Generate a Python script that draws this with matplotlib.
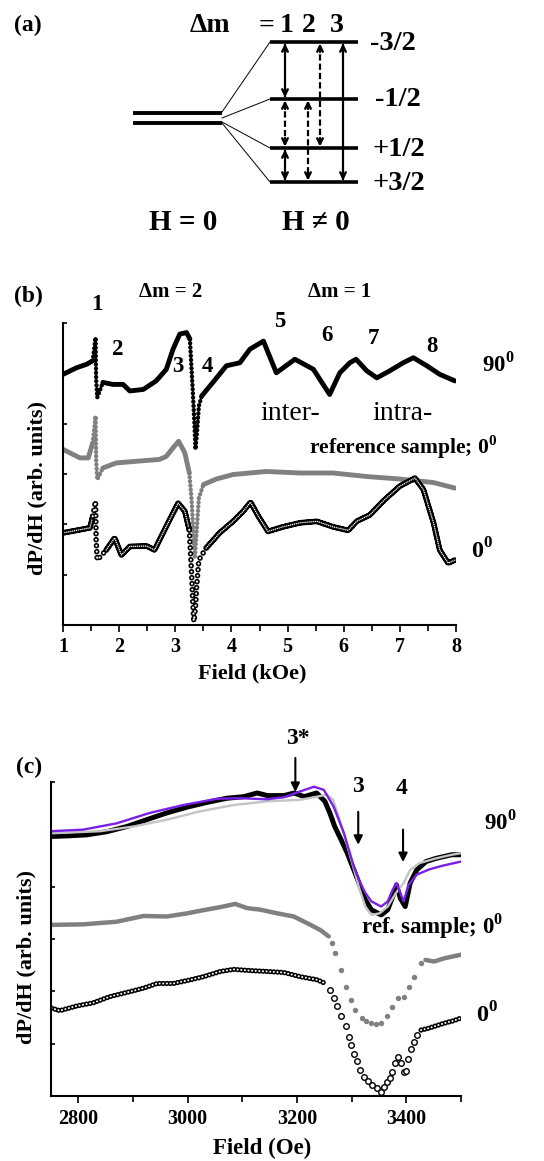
import numpy as np
import matplotlib
matplotlib.use('Agg')
import matplotlib.pyplot as plt

plt.rcParams['font.family'] = ['Liberation Serif', 'DejaVu Serif']
plt.rcParams['font.weight'] = 'bold'
plt.rcParams['axes.labelweight'] = 'bold'
plt.rcParams['mathtext.fontset'] = 'custom'
plt.rcParams['mathtext.rm'] = 'Liberation Serif:bold'
plt.rcParams['mathtext.bf'] = 'Liberation Serif:bold'
plt.rcParams['lines.scale_dashes'] = False

W, H = 544, 1161

# ---- panel (a): spin levels and transitions
levels = ['-3/2', '-1/2', '+1/2', '+3/2']
# (column, from level, to level, line style)
transitions = [(0, 0, 1, '-'), (0, 1, 2, '--'), (0, 2, 3, '-'),
               (1, 1, 3, '--'), (2, 0, 2, '--'), (3, 0, 3, '-')]

# ---- panel (b): field in kOe
h_90 = [1.00, 1.24, 1.42, 1.53, 1.58, 1.59, 1.61, 1.71, 1.89, 2.07, 2.19, 2.43,
        2.66, 2.84, 2.96, 3.08, 3.20, 3.26, 3.28, 3.31, 3.34, 3.36, 3.39, 3.42,
        3.47, 3.67, 3.91, 4.15, 4.33, 4.57, 4.80, 5.13, 5.46, 5.61, 5.75, 5.93,
        6.11, 6.22, 6.41, 6.59, 6.82, 7.06, 7.24, 7.48, 7.71, 7.98]
y_90 = [4.98, 5.11, 5.18, 5.25, 5.71, 4.88, 4.52, 4.82, 4.78, 4.78, 4.65, 4.68,
        4.85, 5.08, 5.48, 5.78, 5.81, 5.68, 5.28, 4.68, 4.02, 3.49, 3.88, 4.35,
        4.55, 4.82, 5.15, 5.21, 5.48, 5.64, 5.01, 5.28, 5.08, 4.82, 4.58, 5.01,
        5.21, 5.28, 5.05, 4.91, 5.05, 5.21, 5.31, 5.15, 4.98, 4.85]

h_ref = [1.00, 1.30, 1.45, 1.53, 1.58, 1.59, 1.61, 1.71, 1.95, 2.72, 2.84, 2.96,
         3.06, 3.17, 3.25, 3.29, 3.33, 3.35, 3.39, 3.42, 3.50, 3.73, 4.03, 4.62,
         5.22, 5.81, 6.41, 7.00, 7.60, 7.98]
y_ref = [3.49, 3.32, 3.32, 3.62, 4.15, 3.29, 2.89, 3.12, 3.22, 3.29, 3.35, 3.52,
         3.65, 3.42, 3.02, 2.49, 1.69, 1.36, 2.03, 2.52, 2.79, 2.90, 2.99, 3.05,
         3.02, 3.02, 2.95, 2.90, 2.83, 2.72]

h_0 = [1.00, 1.48, 1.53, 1.58, 1.59, 1.61, 1.77, 1.92, 2.04, 2.19, 2.49, 2.63,
       2.84, 3.05, 3.17, 3.25, 3.29, 3.31, 3.33, 3.36, 3.38, 3.42, 3.55, 3.79,
       4.03, 4.21, 4.34, 4.48, 4.65, 4.92, 5.22, 5.52, 5.81, 6.08, 6.23, 6.47,
       6.70, 7.00, 7.27, 7.42, 7.60, 7.71, 7.86, 7.98]
y_0 = [1.83, 1.93, 2.16, 2.46, 1.69, 1.29, 1.49, 1.73, 1.39, 1.56, 1.57, 1.49,
       1.96, 2.42, 2.26, 1.89, 1.03, 0.50, 0.07, 0.35, 0.76, 1.29, 1.53, 1.83,
       2.06, 2.26, 2.44, 2.16, 1.86, 1.95, 2.03, 2.06, 1.95, 1.88, 2.06, 2.19,
       2.46, 2.76, 2.92, 2.69, 2.03, 1.49, 1.23, 1.29]

# ---- panel (c): field in Oe
f_90 = [2751, 2779, 2815, 2852, 2889, 2925, 2962, 2999, 3035, 3072, 3103, 3127,
        3146, 3176, 3195, 3213, 3236, 3251, 3260, 3269, 3281, 3292, 3304, 3316,
        3325, 3336, 3354, 3366, 3375, 3382, 3389, 3398, 3407, 3419, 3436, 3454,
        3483, 3500]
c_90 = [4.96, 4.97, 4.99, 5.05, 5.15, 5.28, 5.41, 5.52, 5.61, 5.69, 5.72, 5.79,
        5.74, 5.74, 5.79, 5.72, 5.79, 5.63, 5.41, 5.15, 4.89, 4.64, 4.32, 4.00,
        3.75, 3.56, 3.46, 3.56, 3.81, 4.03, 3.78, 3.62, 4.07, 4.32, 4.48, 4.54,
        4.61, 4.61]

f_fit1 = [2751, 2809, 2870, 2931, 2992, 3054, 3096, 3145, 3176, 3206, 3231, 3249,
          3267, 3286, 3304, 3313, 3325, 3336, 3354, 3366, 3375, 3382, 3389, 3395,
          3404, 3419, 3442, 3466, 3483, 3500]
c_fit1 = [5.06, 5.09, 5.21, 5.41, 5.56, 5.68, 5.69, 5.67, 5.71, 5.82, 5.91, 5.85,
          5.53, 5.02, 4.38, 4.13, 3.88, 3.72, 3.62, 3.72, 3.94, 4.07, 3.88, 3.72,
          4.03, 4.23, 4.33, 4.40, 4.44, 4.48]

f_fit2 = [2751, 2840, 2901, 2962, 3023, 3084, 3145, 3206, 3237, 3255, 3266, 3278,
          3289, 3301, 3313, 3325, 3336, 3351, 3366, 3381, 3395, 3407, 3424, 3454,
          3483, 3500]
c_fit2 = [5.02, 5.06, 5.15, 5.28, 5.44, 5.56, 5.63, 5.66, 5.72, 5.76, 5.66, 5.28,
          4.89, 4.45, 4.00, 3.62, 3.46, 3.49, 3.62, 3.88, 4.07, 4.32, 4.45, 4.54,
          4.61, 4.64]

f_ref = [2751, 2809, 2870, 2919, 2962, 2999, 3023, 3060, 3087, 3109, 3133, 3164,
         3194, 3219, 3243, 3258, 3264, 3270, 3280, 3289, 3298, 3307, 3319, 3327,
         3335, 3344, 3353, 3365, 3374, 3384, 3396, 3405, 3414, 3426, 3435, 3451,
         3469, 3500]
c_ref = [3.27, 3.28, 3.33, 3.44, 3.43, 3.49, 3.54, 3.61, 3.67, 3.59, 3.56, 3.49,
         3.43, 3.30, 3.17, 3.05, 2.92, 2.73, 2.41, 2.09, 1.84, 1.64, 1.49, 1.44,
         1.40, 1.38, 1.39, 1.52, 1.71, 1.87, 1.90, 2.09, 2.28, 2.54, 2.60, 2.57,
         2.63, 2.70]

f_0 = [2751, 2766, 2797, 2827, 2858, 2889, 2919, 2944, 2974, 3005, 3029, 3060,
       3084, 3109, 3145, 3176, 3206, 3237, 3252, 3261, 3267, 3274, 3281, 3289,
       3295, 3299, 3304, 3309, 3315, 3322, 3329, 3338, 3347, 3353, 3359, 3365,
       3370, 3374, 3379, 3385, 3390, 3395, 3399, 3403, 3409, 3414, 3420, 3427,
       3439, 3451, 3469, 3487, 3500]
c_0 = [1.68, 1.63, 1.72, 1.78, 1.90, 1.98, 2.06, 2.15, 2.15, 2.22, 2.28, 2.38,
       2.42, 2.40, 2.38, 2.36, 2.28, 2.22, 2.15, 2.03, 1.87, 1.72, 1.53, 1.33,
       1.13, 0.98, 0.80, 0.66, 0.50, 0.37, 0.29, 0.21, 0.15, 0.08, 0.18, 0.27,
       0.34, 0.46, 0.63, 0.75, 0.64, 0.45, 0.48, 0.70, 0.89, 1.04, 1.17, 1.26,
       1.29, 1.33, 1.39, 1.44, 1.49]

arrow_field = [3197, 3312, 3394]
arrow_names = ['3*', '3', '4']

GREY = '#808080'
PURPLE = '#7a1fe6'
LIGHT = '#c4c4c4'


def in_ranges(x, ranges):
    x = np.asarray(x, float)
    m = np.zeros(len(x), bool)
    for a, b in ranges:
        m |= (x >= a) & (x <= b)
    return m


def part(x, y, ranges, inside):
    y = np.asarray(y, float)
    m = in_ranges(x, ranges)
    if inside:
        m = m | np.roll(m, 1) | np.roll(m, -1)
        return np.where(m, y, np.nan)
    return np.where(~m, y, np.nan)


def filled(ax, x, y, color, steep):
    ax.plot(x, part(x, y, steep, False), color=color, lw=3.5, solid_capstyle='round')
    ax.plot(x, part(x, y, steep, True), color=color, lw=3.2,
            dashes=(0.01, 3.0), dash_capstyle='round')


def rings(ax, x, y, gap, lw=4.2, inner=1.1):
    ax.plot(x, y, color='k', lw=lw, dashes=(0.01, gap), dash_capstyle='round')
    ax.plot(x, y, color='white', lw=inner, dashes=(0.01, gap), dash_capstyle='round')


def txt(x, y, s, size, weight='bold'):
    fig.text(x / W, 1 - y / H, s, fontsize=size, fontweight=weight,
             ha='center', va='center')


def frame(ax, xlim, major, minor):
    ax.set_xlim(xlim)
    ax.set_ylim(0, 6)
    ax.spines['top'].set_visible(False)
    ax.spines['right'].set_visible(False)
    ax.spines['left'].set_linewidth(1.5)
    ax.spines['bottom'].set_linewidth(1.5)
    ax.set_xticks(major)
    ax.set_xticks(minor, minor=True)
    ax.set_yticks(range(1, 7))
    ax.set_yticklabels([])
    ax.tick_params(axis='x', which='both', direction='out', width=1.2, labelsize=14.5, pad=4)
    ax.tick_params(axis='x', which='major', length=5)
    ax.tick_params(axis='x', which='minor', length=4)
    ax.tick_params(axis='y', direction='in', length=3, width=1.2)
    plt.setp(ax.get_xticklabels(), fontweight='bold')


fig = plt.figure(figsize=(W / 100, H / 100), dpi=100)

# ================= (a)
ax_a = fig.add_axes([0, 1 - 250 / H, 1, 250 / H])
ax_a.set_xlim(0, W)
ax_a.set_ylim(250, 0)
ax_a.axis('off')

level_y = [42, 99, 148, 182]
col_x = [285, 308, 320, 343]
ax_a.hlines(level_y, 270, 358, color='k', lw=2.6)
ax_a.hlines([113, 123], 133, 222, color='k', lw=2.8)
for y0, y1 in zip([112, 118, 122, 123], level_y):
    ax_a.plot([222, 270], [y0, y1], color='k', lw=0.7)
for c, i, j, ls in transitions:
    x = col_x[c]
    ya, yb = level_y[i], level_y[j]
    if ls == '-':
        ax_a.plot([x, x], [ya + 3, yb - 3], color='k', lw=1.6)
    else:
        ax_a.plot([x, x], [ya + 3, yb - 3], color='k', lw=1.6, dashes=(4.5, 2.2))
    for tip, tail in [(ya + 1.5, ya + 10), (yb - 1.5, yb - 10)]:
        ax_a.annotate('', xy=(x, tip), xytext=(x, tail),
                      arrowprops=dict(arrowstyle='->', color='k', lw=1.7,
                                      mutation_scale=10, shrinkA=0, shrinkB=0))
for name, yl, xl in zip(levels, level_y, [393, 398, 399, 399]):
    txt(xl, yl + 1, name, 20.5)
txt(28, 25, '(a)', 17)
txt(210, 26, 'Δm', 20)
txt(266, 26, '=', 20)
for k, xl in enumerate([287, 309, 337]):
    txt(xl, 25, str(k + 1), 20)
txt(183, 222, 'H = 0', 21)
txt(316, 222, 'H ≠ 0', 21)

# ================= (b)
ax_b = fig.add_axes([63 / W, 1 - 625 / H, 393 / W, 302 / H])
frame(ax_b, (1, 8), range(1, 9), np.arange(1.5, 8, 1.0))

filled(ax_b, h_ref, y_ref, GREY, [(1.565, 1.62), (3.27, 3.44)])
filled(ax_b, h_90, y_90, 'k', [(1.565, 1.62), (3.265, 3.445)])
steep0 = [(1.565, 1.62), (3.26, 3.44)]
rings(ax_b, h_0, part(h_0, y_0, steep0, False), 1.4)
rings(ax_b, h_0, part(h_0, y_0, steep0, True), 4.3, lw=4.0, inner=1.6)

ax_b.set_xlabel('Field (kOe)', fontsize=16, va='center')
ax_b.xaxis.set_label_coords(0.481, -0.159)
ax_b.set_ylabel('dP/dH (arb. units)', fontsize=16, va='center')
ax_b.yaxis.set_label_coords(-0.066, 0.454)

txt(28, 296, '(b)', 17)
txt(171, 292, 'Δm = 2', 15)
txt(340, 292, 'Δm = 1', 15)
for s, (xl, yl) in zip('12345678', [(97, 304), (118, 350), (178, 367), (207, 367),
                                      (280, 322), (327, 336), (373, 338), (432, 346)]):
    txt(xl, yl, s, 16.5)
txt(498, 364, r'90$^{0}$', 16.5)
txt(290, 413, 'inter-', 20, 'normal')
txt(402, 413, 'intra-', 20, 'normal')
txt(403, 447, r'reference sample; 0$^{0}$', 15.5)
txt(482, 551, r'0$^{0}$', 17.5)

# ================= (c)
ax_c = fig.add_axes([51 / W, 1 - 1096 / H, 410 / W, 314 / H])
frame(ax_c, (2750, 3500), [2800, 3000, 3200, 3400], [2900, 3100, 3300, 3500])

ax_c.plot(f_90, c_90, color='k', lw=3.6, solid_capstyle='round')
ax_c.plot(f_fit2, c_fit2, color=LIGHT, lw=1.7)
ax_c.plot(f_fit1, c_fit1, color=PURPLE, lw=1.7)

dip_ref = [(3260, 3430)]
ax_c.plot(f_ref, part(f_ref, c_ref, dip_ref, False), color=GREY, lw=3.2,
          solid_capstyle='round')
m = in_ranges(f_ref, dip_ref)
ax_c.plot(np.array(f_ref)[m], np.array(c_ref)[m], 'o', color=GREY, ms=3.9, mew=0)

dip_0 = [(3255, 3425)]
rings(ax_c, f_0, part(f_0, c_0, dip_0, False), 2.6, lw=3.8, inner=1.5)
m = in_ranges(f_0, dip_0)
ax_c.plot(np.array(f_0)[m], np.array(c_0)[m], 'o', mfc='white', mec='k', ms=4.0, mew=1.0)

for xf, (yt, yb) in zip(arrow_field, [(6.46, 5.81), (5.43, 4.80), (5.09, 4.47)]):
    ax_c.annotate('', xy=(xf, yb), xytext=(xf, yt), annotation_clip=False,
                  arrowprops=dict(arrowstyle='-|>', color='k', lw=1.5,
                                  mutation_scale=13, shrinkA=0, shrinkB=0))

ax_c.set_xlabel('Field (Oe)', fontsize=16.5, va='center')
ax_c.xaxis.set_label_coords(0.514, -0.166)
ax_c.set_ylabel('dP/dH (arb. units)', fontsize=16, va='center')
ax_c.yaxis.set_label_coords(-0.061, 0.443)

txt(29, 767, '(c)', 17)
for s, (xl, yl) in zip(arrow_names, [(298, 738), (358, 786), (402, 788)]):
    txt(xl, yl, s, 17)
txt(500, 822, r'90$^{0}$', 16.5)
txt(432, 926, r'ref. sample; 0$^{0}$', 16.5)
txt(487, 1015, r'0$^{0}$', 17.5)

fig.savefig('out.png', dpi=100)
